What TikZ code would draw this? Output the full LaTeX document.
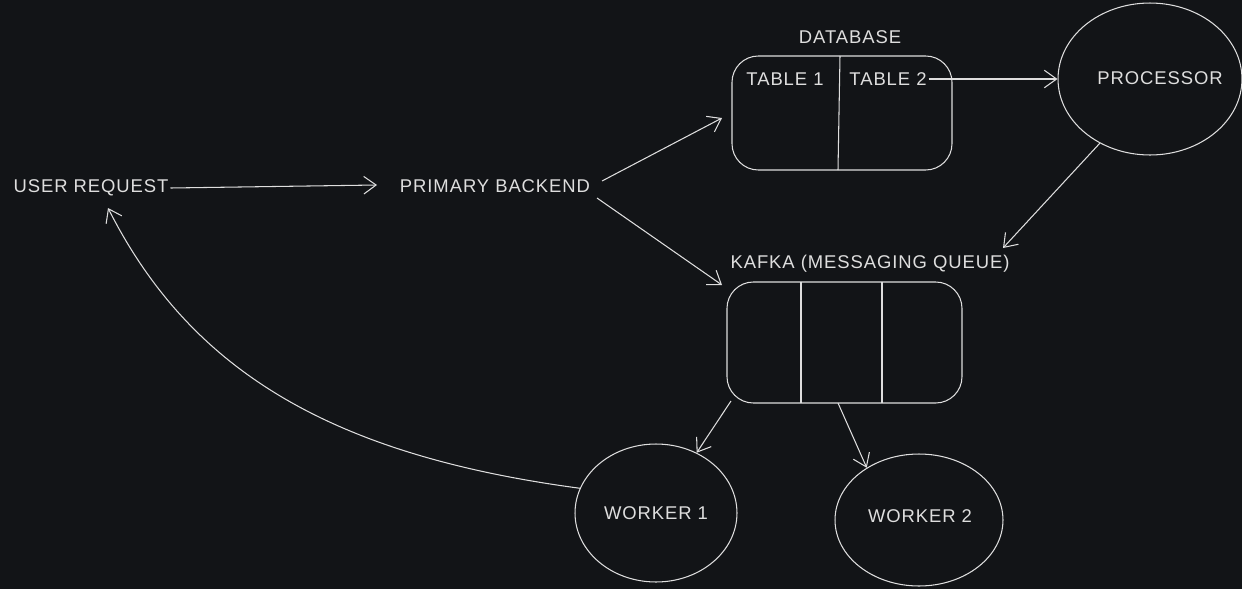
\documentclass[tikz,border=0pt]{standalone}
\usepackage{fontspec}
\setmainfont{Liberation Sans}[LetterSpace=5]
\usetikzlibrary{arrows.meta,shapes.geometric}
\definecolor{bg}{RGB}{18,20,23}
\definecolor{ink}{RGB}{222,222,222}
\begin{document}
\begin{tikzpicture}[x=0.02cm,y=-0.02cm,
  ln/.style={draw=ink,line width=0.6pt},
  arr/.style={ln,-{Straight Barb[length=7pt,width=10pt,line width=0.6pt]}},
  lbl/.style={text=ink,font=\fontsize{10.5}{12}\selectfont,inner sep=1pt},
  oval/.style={ellipse,draw=ink,line width=0.6pt,inner sep=0pt}]
\fill[bg] (0,0) rectangle (1242,589);
\useasboundingbox (0,0) rectangle (1242,589);
% texts
\node[lbl] (user) at (91,188) {USER REQUEST};
\node[lbl] (backend) at (495,186) {PRIMARY BACKEND};
\node[lbl] (dblabel) at (850,37) {DATABASE};
\node[lbl] (t1) at (785,79) {TABLE 1};
\node[lbl] (t2) at (888,79) {TABLE 2};
\node[lbl] (kafkalabel) at (870,264) {KAFKA (MESSAGING QUEUE)};
% database box
\draw[ln,rounded corners=15] (732,56) rectangle (952,170);
\draw[ln] (840,56) -- (838,170);
\coordinate (dbin) at (722,118);
% kafka box
\draw[ln,rounded corners=15] (727,282) rectangle (962,403);
\draw[ln] (801,282) -- (801,403);
\draw[ln] (882,282) -- (882,403);
\coordinate (kin) at (722,285);
\coordinate (kout1) at (731,401);
\coordinate (kout2) at (838,403);
\coordinate (kin2) at (1003,248);
% ellipses
\node[oval,minimum width=3.68cm,minimum height=3.04cm] (proc) at (1150,79) {};
\node[lbl] (proctext) at (1160,78) {PROCESSOR};
\node[oval,minimum width=3.24cm,minimum height=2.76cm] (w1) at (656,513) {};
\node[lbl] (w1text) at (656,513) {WORKER 1};
\node[oval,minimum width=3.36cm,minimum height=2.64cm] (w2) at (919,520) {};
\node[lbl] (w2text) at (920,516) {WORKER 2};
\coordinate (backout1) at (602,181);
\coordinate (backout2) at (597,198);
\coordinate (userin) at (108,208);
\coordinate (backin) at (377,185);
% connectors
\draw[arr] (user.east) -- (backin);
\draw[arr] (backout1) -- (dbin);
\draw[arr] (backout2) -- (kin);
\draw[arr] (t2.east) -- (proc.west);
\draw[arr] (proc.-128) -- (kin2);
\draw[arr] (kout1) -- (w1.56);
\draw[arr] (kout2) -- (w2.135);
\draw[arr] (w1.162) .. controls (330,455) and (190,370) .. (userin);
\end{tikzpicture}
\end{document}
